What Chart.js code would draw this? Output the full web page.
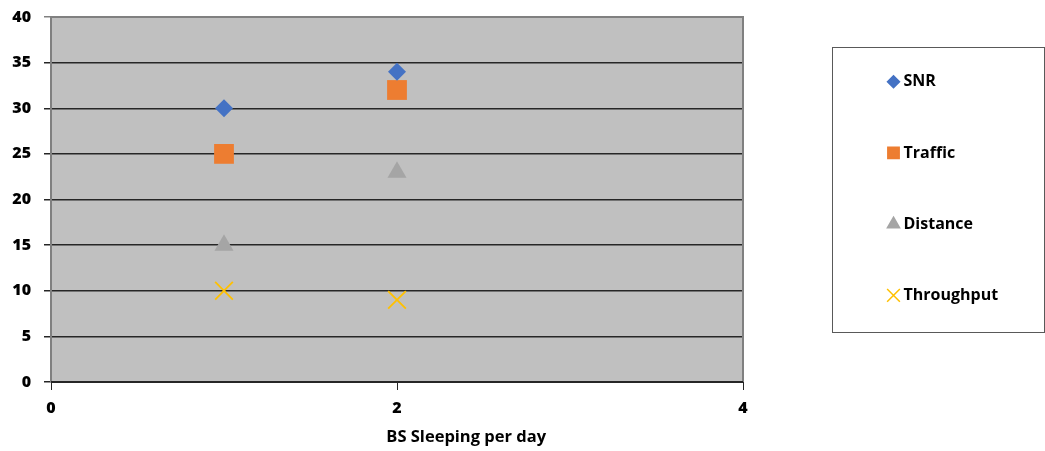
<!DOCTYPE html>
<html>
<head>
<meta charset="utf-8">
<script src="https://cdn.jsdelivr.net/npm/chart.js@4.4.1/dist/chart.umd.min.js"></script>
<style>
  html, body { margin: 0; padding: 0; background: #ffffff; }
  #wrap { width: 1045px; height: 451px; position: relative; }
</style>
</head>
<body>
<div id="wrap"><canvas id="grafico"></canvas></div>
<script>
// dados
const xValores = [1, 2];
const snr = [30, 34];
const traffic = [25, 32];
const distance = [15, 23];
const throughput = [10, 9];
const xTicks = [0, 2, 4];
const yTicks = [0, 5, 10, 15, 20, 25, 30, 35, 40];
const tituloX = "BS Sleeping per day";

const fonte = "'Open Sans', 'Liberation Sans', sans-serif";
Chart.defaults.font.family = fonte;
Chart.defaults.font.weight = 700;
Chart.defaults.color = "#000000";

function pontos(ys) {
    return xValores.map((x, i) => ({ x: x, y: ys[i] }));
}

const series = [
    { label: "SNR", data: snr, cor: "#4472c4", estilo: "rectRot", raio: 9, raioLeg: 6 },
    { label: "Traffic", data: traffic, cor: "#ed7d31", estilo: "rect", raio: 14, raioLeg: 8 },
    { label: "Distance", data: distance, cor: "#a5a5a5", estilo: "triangle", raio: 11, raioLeg: 7 },
    { label: "Throughput", data: throughput, cor: "#ffc000", estilo: "crossRot", raio: 12.5, raioLeg: 9 }
];

// fundo cinza da área do gráfico + borda
const fundoPlugin = {
    id: "fundo",
    beforeDraw(chart) {
        const { ctx, chartArea: a } = chart;
        ctx.save();
        ctx.fillStyle = "#c0c0c0";
        ctx.fillRect(a.left, a.top, a.right - a.left, a.bottom - a.top);
        ctx.restore();
    },
    beforeDatasetsDraw(chart) {
        const { ctx, chartArea: a } = chart;
        ctx.save();
        ctx.strokeStyle = "#808080";
        ctx.lineWidth = 2;
        ctx.beginPath();
        ctx.moveTo(a.left, a.bottom);
        ctx.lineTo(a.left, a.top);
        ctx.lineTo(a.right, a.top);
        ctx.lineTo(a.right, a.bottom);
        ctx.stroke();
        ctx.strokeStyle = "#262626";
        ctx.lineWidth = 2;
        ctx.beginPath();
        ctx.moveTo(a.left, a.bottom);
        ctx.lineTo(a.right, a.bottom);
        ctx.stroke();
        ctx.restore();
    }
};

// legenda em caixa à direita e título do eixo x
const legendaPlugin = {
    id: "legendaCaixa",
    afterDraw(chart) {
        const { ctx, chartArea: a, width } = chart;
        const left = a.right + 89.5;
        const top = 47.5;
        const bottom = 332.5;
        const altura = bottom - top;
        ctx.save();
        ctx.strokeStyle = "#595959";
        ctx.lineWidth = 1;
        ctx.strokeRect(left, top, width - 0.5 - left, altura);

        chart.data.datasets.forEach((ds, i) => {
            const y = top + (i + 0.48) * altura / 4;
            const x = left + 61;
            ctx.fillStyle = ds.pointBackgroundColor;
            ctx.strokeStyle = ds.pointBorderColor;
            ctx.lineWidth = 1.5;
            Chart.helpers.drawPoint(ctx, {
                pointStyle: ds.pointStyle,
                radius: series[i].raioLeg,
                rotation: 0,
                borderWidth: 1.5
            }, x, y);
            ctx.fillStyle = "#000000";
            ctx.font = "bold 16px " + fonte;
            ctx.textAlign = "left";
            ctx.textBaseline = "middle";
            ctx.fillText(ds.label, left + 71, y);
        });

        ctx.fillStyle = "#000000";
        ctx.font = "bold 16.5px " + fonte;
        ctx.textAlign = "center";
        ctx.textBaseline = "middle";
        ctx.fillText(tituloX, a.left + (a.right - a.left) * 0.6, 437);
        ctx.restore();
    }
};

const contexto = document.getElementById("grafico").getContext("2d");

new Chart(contexto, {
    type: "scatter",
    data: {
        datasets: series.map(s => ({
            label: s.label,
            data: pontos(s.data),
            pointStyle: s.estilo,
            pointRadius: s.raio,
            pointHoverRadius: s.raio,
            pointBackgroundColor: s.cor,
            pointBorderColor: s.cor,
            pointBorderWidth: s.estilo === "crossRot" ? 1.8 : 0,
            backgroundColor: s.cor,
            borderColor: s.cor
        }))
    },
    options: {
        responsive: true,
        maintainAspectRatio: false,
        animation: false,
        layout: { padding: { top: 17, right: 302, left: 0, bottom: 0 } },
        plugins: {
            legend: { display: false },
            tooltip: { enabled: false }
        },
        scales: {
            x: {
                type: "linear",
                min: 0,
                max: 4,
                afterBuildTicks(scale) {
                    scale.ticks = xTicks.map(v => ({ value: v }));
                },
                afterFit(scale) {
                    scale.height = 69;
                    scale.paddingLeft = 0;
                    scale.paddingRight = 0;
                },
                grid: {
                    drawOnChartArea: false,
                    drawTicks: true,
                    tickLength: 8,
                    color: "#262626",
                    lineWidth: 1
                },
                border: { display: false },
                ticks: {
                    color: "#000000",
                    font: { family: fonte, size: 16, weight: 800 },
                    padding: 9
                }
            },
            y: {
                min: 0,
                max: 40,
                afterBuildTicks(scale) {
                    scale.ticks = yTicks.map(v => ({ value: v }));
                },
                afterFit(scale) {
                    scale.width = 51;
                    scale.paddingTop = 0;
                    scale.paddingBottom = 0;
                },
                grid: {
                    drawTicks: true,
                    tickLength: 7,
                    color: ctx => (ctx.tick && ctx.tick.value === 40) ? "#808080" : "#262626",
                    lineWidth: 1.5
                },
                border: { display: false },
                ticks: {
                    color: "#000000",
                    font: { family: fonte, size: 16, weight: 800 },
                    padding: 13
                }
            }
        }
    },
    plugins: [fundoPlugin, legendaPlugin]
});
</script>
</body>
</html>
